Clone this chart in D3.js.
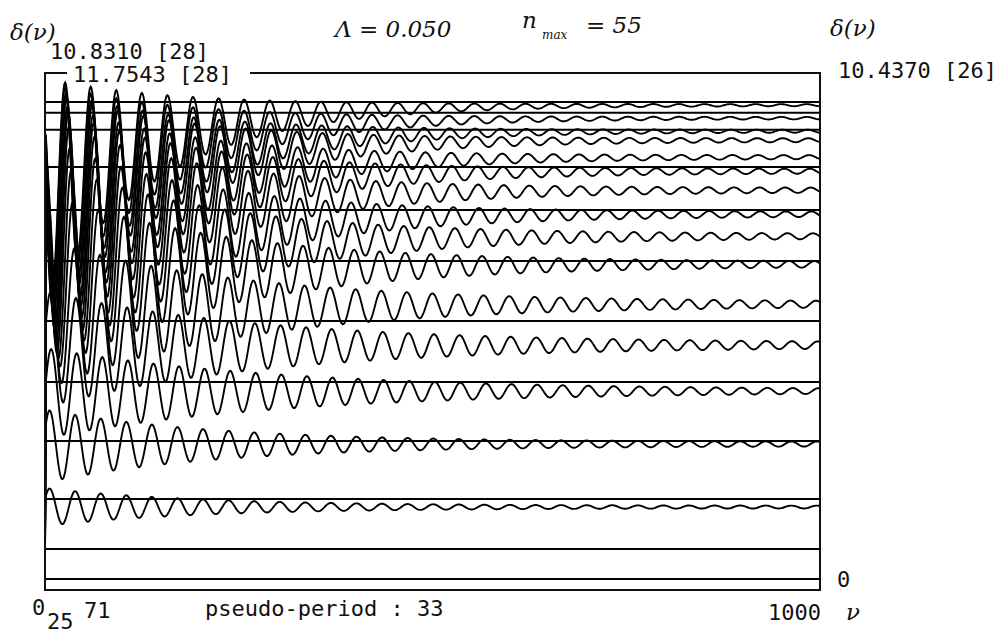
<!DOCTYPE html>
<html>
<head>
<meta charset="utf-8">
<script src="https://cdn.jsdelivr.net/npm/d3@7"></script>
<style>
  body { margin: 0; background: #fff; }
  svg text { fill: #111; }
  .mono { font-family: "DejaVu Sans Mono", monospace; font-size: 22px; }
  .ital { font-family: "DejaVu Serif", serif; font-style: italic; font-size: 23px; }
</style>
</head>
<body>
<svg id="chart" width="1008" height="635"></svg>
<script>
// values (delta units, nu units)
const pseudoPeriod = 33;          // from the caption
const nuDomain = [0, 1000];
const deltaDomain = [0, 11.7543];
const startLevel = 0.697;         // every curve leaves the left edge here
const lineLevels = [0, 0.697, 1.858, 3.206, 4.576, 5.993, 7.387, 8.571, 9.570, 10.437, 10.831, 11.08];

// one entry per curve, bottom to top
const curveEnd  = [1.672, 3.136, 4.367, 5.436, 6.388, 7.317, 7.967, 8.478, 9.036, 9.477, 9.803, 10.197, 10.406, 10.709, 11.01];
const curveAmp  = [0.41, 0.80, 1.02, 1.30, 1.70, 2.10, 2.40, 2.60, 2.75, 2.80, 2.80, 2.75, 2.70, 2.65, 2.55];
const curveTau  = [200, 220, 300, 280, 250, 225, 205, 190, 180, 170, 165, 160, 155, 150, 150];
const curveDip  = [0, 0.05, 0.05, 0.10, 0.25, 0.45, 0.65, 0.85, 1.05, 1.25, 1.45, 1.60, 1.70, 1.85, 1.95];
const curveTail = [0.03, 0.05, 0.03, 0.05, 0.05, 0.05, 0.05, 0.05, 0.05, 0.05, 0.04, 0.04, 0.03, 0.025, 0.02];
const curvePeak = [39, 39, 41, 40, 38, 36, 34, 32, 31, 30, 29, 28, 27, 26, 26];

const leftTopLabel = '11.7543 [28]';
const upperLabel = '10.8310 [28]';
const rightTopLabel = '10.4370 [26]';
const bottomTicks = ['0', '25', '71'];

const svg = d3.select('#chart');
const x = d3.scaleLinear().domain(nuDomain).range([45, 820]);
const y = d3.scaleLinear().domain(deltaDomain).range([579, 73]);
const yBottom = y.invert(590);

// build each curve from its read parameters
const curves = curveEnd.map((c, i) => {
  const pts = [[0, startLevel]];
  for (let nu = 1; nu <= nuDomain[1]; nu++) {
    const e = Math.exp(-nu / curveTau[i]);
    const ph = Math.cos(2 * Math.PI * (nu - curvePeak[i]) / pseudoPeriod);
    pts.push([nu, c + e * (curveAmp[i] * ph - curveDip[i]) + curveTail[i] * ph]);
  }
  return pts;
});

const line = d3.line().x(d => x(d[0])).y(d => y(d[1]));

svg.append('g')
  .selectAll('path')
  .data(curves)
  .enter().append('path')
  .attr('d', line)
  .attr('fill', 'none')
  .attr('stroke', '#000')
  .attr('stroke-width', 1.9);

svg.append('g')
  .selectAll('line')
  .data(lineLevels)
  .enter().append('line')
  .attr('x1', x(nuDomain[0]))
  .attr('x2', x(nuDomain[1]))
  .attr('y1', d => y(d))
  .attr('y2', d => y(d))
  .attr('stroke', '#000')
  .attr('stroke-width', 2);

// frame, top edge broken by the label
const frame = svg.append('g').attr('stroke', '#111').attr('stroke-width', 2).attr('fill', 'none');
frame.append('path')
  .attr('d', `M${x(0) + 22},${y(deltaDomain[1])}H${x(0)}V${y(yBottom)}H${x(1000)}V${y(deltaDomain[1])}H${x(0) + 205}`);

const labels = svg.append('g');
labels.append('text').attr('class', 'mono').attr('x', 73).attr('y', 82).text(leftTopLabel);
labels.append('text').attr('class', 'mono').attr('x', 50).attr('y', 59).text(upperLabel);
labels.append('text').attr('class', 'mono').attr('x', 838).attr('y', 78).text(rightTopLabel);
labels.append('text').attr('class', 'mono').attr('x', 837).attr('y', y(0) + 8).text('0');

labels.append('text').attr('class', 'mono').attr('x', 32).attr('y', 615).text(bottomTicks[0]);
labels.append('text').attr('class', 'mono').attr('x', 47).attr('y', 629).text(bottomTicks[1]);
labels.append('text').attr('class', 'mono').attr('x', 84).attr('y', 618).text(bottomTicks[2]);
labels.append('text').attr('class', 'mono').attr('x', 205).attr('y', 616).text('pseudo-period : ' + pseudoPeriod);
labels.append('text').attr('class', 'mono').attr('x', 768).attr('y', 620).text(String(nuDomain[1]));
labels.append('text').attr('class', 'ital').attr('x', 846).attr('y', 620).text('ν');

labels.append('text').attr('class', 'ital').attr('x', 10).attr('y', 40).text('δ(ν)');
labels.append('text').attr('class', 'ital').attr('x', 830).attr('y', 36).text('δ(ν)');
labels.append('text').attr('class', 'ital').attr('x', 335).attr('y', 37).text('Λ = 0.050');
labels.append('text').attr('class', 'ital').attr('x', 522).attr('y', 28).text('n');
labels.append('text').attr('class', 'ital').attr('x', 542).attr('y', 39).style('font-size', '12px').text('max');
labels.append('text').attr('class', 'ital').attr('x', 586).attr('y', 33).text('= 55');
</script>
</body>
</html>
